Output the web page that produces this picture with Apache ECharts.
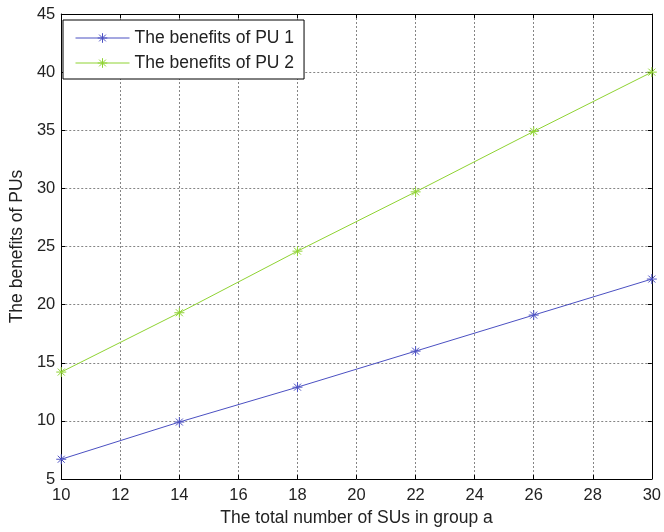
<!DOCTYPE html>
<html>
<head>
<meta charset="utf-8">
<script src="https://cdn.jsdelivr.net/npm/echarts@6/dist/echarts.min.js"></script>
<style>
  html, body { margin: 0; padding: 0; background: #fff; }
  #chart { width: 664px; height: 532px; }
</style>
</head>
<body>
<div id="chart"></div>
<script>
// Number of SUs in group a
const suCounts = [10, 14, 18, 22, 26, 30];
// Benefits of each primary user
const pu1Benefits = [6.7, 9.9, 12.9, 16.0, 19.1, 22.2];
const pu2Benefits = [14.2, 19.3, 24.6, 29.7, 34.9, 40.0];
const seriesNames = ['The benefits of PU 1', 'The benefits of PU 2'];
const xTitle = 'The total number of SUs in group a';
const yTitle = 'The benefits of PUs';

const FONT = '"Liberation Sans", Arial, sans-serif';
const TEXT = '#222';
// asterisk marker drawn as stroked strokes
const STAR = 'path://M0,5L10,5M5,0L5,10M1.5,1.5L8.5,8.5M1.5,8.5L8.5,1.5';

function pairs(xs, ys) { return xs.map((x, i) => [x, ys[i]]); }

function lineSeries(name, ys, color) {
  return {
    name: name,
    type: 'line',
    data: pairs(suCounts, ys),
    symbol: STAR,
    symbolSize: 10,
    showAllSymbol: true,
    lineStyle: { color: color, width: 1 },
    itemStyle: { color: color, borderColor: color, borderWidth: 1 },
    emphasis: { disabled: true },
    animation: false
  };
}

const chart = echarts.init(document.getElementById('chart'), null, { renderer: 'canvas' });
const gridLine = { show: true, lineStyle: { color: '#858585', width: 1, type: [2, 2] } };
const edge = { show: true, lineStyle: { color: '#000', width: 1 } };
const tick = { show: true, inside: true, length: 4, lineStyle: { color: '#000' } };

chart.setOption({
  backgroundColor: '#fff',
  animation: false,
  grid: { left: 59, right: 9, top: 14, bottom: 50, containLabel: false },
  legend: {
    orient: 'vertical',
    left: 63,
    top: 20,
    data: seriesNames,
    backgroundColor: '#fff',
    borderColor: '#000',
    borderWidth: 1,
    padding: [8, 10, 6, 12],
    itemWidth: 54,
    itemHeight: 12,
    itemGap: 5,
    itemStyle: { borderWidth: 1 },
    lineStyle: { width: 1 },
    textStyle: { fontFamily: FONT, fontSize: 17.5, lineHeight: 20, color: TEXT }
  },
  xAxis: [
    {
      type: 'value', min: 10, max: 30, interval: 2,
      name: xTitle, nameLocation: 'middle', nameGap: 30,
      nameTextStyle: { fontFamily: FONT, fontSize: 17.5, color: TEXT },
      axisLine: edge, axisTick: tick, splitLine: gridLine,
      axisLabel: { fontFamily: FONT, fontSize: 16.5, color: TEXT, margin: 8 }
    },
    {
      type: 'value', min: 10, max: 30, interval: 2, position: 'top',
      axisLine: edge, axisTick: tick, splitLine: { show: false },
      axisLabel: { show: false }
    }
  ],
  yAxis: [
    {
      type: 'value', min: 5, max: 45, interval: 5,
      name: yTitle, nameLocation: 'middle', nameGap: 35,
      nameTextStyle: { fontFamily: FONT, fontSize: 17.5, color: TEXT },
      axisLine: edge, axisTick: tick, splitLine: gridLine,
      axisLabel: { fontFamily: FONT, fontSize: 16.5, color: TEXT, margin: 6 }
    },
    {
      type: 'value', min: 5, max: 45, interval: 5, position: 'right',
      axisLine: edge, axisTick: tick, splitLine: { show: false },
      axisLabel: { show: false }
    }
  ],
  series: [
    lineSeries(seriesNames[0], pu1Benefits, '#4b50c2'),
    lineSeries(seriesNames[1], pu2Benefits, '#8fd332')
  ]
});
</script>
</body>
</html>
